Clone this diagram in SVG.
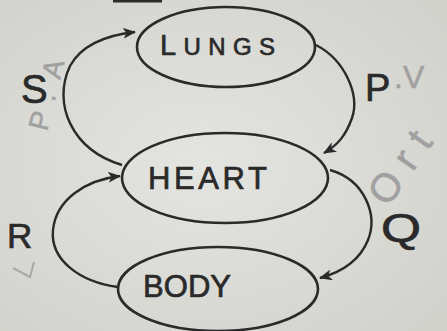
<svg xmlns="http://www.w3.org/2000/svg" width="447" height="331" viewBox="0 0 447 331">
<defs>
<style>
.node{fill:none;stroke:#2a2a2a;stroke-width:2.6}
.edge{fill:none;stroke:#2a2a2a;stroke-width:2.4}
.lbl{font-family:"Liberation Sans",Arial,sans-serif;fill:#2a2a2a;stroke:#2a2a2a;stroke-width:0.7}
.pencil{font-family:"Liberation Sans",Arial,sans-serif;fill:#a0a0a0;stroke:#a0a0a0;stroke-width:0.5}
</style>
<marker id="ah" viewBox="0 0 13 11" refX="12" refY="5.5" markerWidth="13" markerHeight="11" markerUnits="userSpaceOnUse" orient="auto">
<path d="M0,0 L13,5.5 L0,11 L3.5,5.5 Z" fill="#2a2a2a"/>
</marker>
<radialGradient id="bg" cx="0.45" cy="0.5" r="0.7">
<stop offset="0" stop-color="#e4e4e0"/>
<stop offset="1" stop-color="#d2d2cd"/>
</radialGradient>
</defs>
<rect width="447" height="331" fill="url(#bg)"/>
<line x1="113" y1="1" x2="162" y2="1" stroke="#2a2a2a" stroke-width="3"/>
<g id="lungs">
<ellipse class="node" cx="226" cy="47" rx="89" ry="40"/>
<text class="lbl" x="160" y="55" font-size="29" textLength="115" lengthAdjust="spacing">L<tspan font-size="24">UNGS</tspan></text>
</g>
<g id="heart">
<ellipse class="node" cx="225" cy="178" rx="103" ry="45"/>
<text class="lbl" x="148" y="189" font-size="31" textLength="119" lengthAdjust="spacing">HEART</text>
</g>
<g id="body">
<ellipse class="node" cx="218" cy="289" rx="100" ry="42"/>
<text class="lbl" x="143" y="297" font-size="31" textLength="88" lengthAdjust="spacing">BODY</text>
</g>
<g id="connectors">
<path class="edge" d="M122,165 C72,150 52,104 70,66 C82,44 108,35 135,32" marker-end="url(#ah)"/>
<path class="edge" d="M316,45 C345,60 360,95 352,118 C346,135 338,145 324,153" marker-end="url(#ah)"/>
<path class="edge" d="M330,170 C365,180 378,215 368,240 C360,260 342,272 320,278" marker-end="url(#ah)"/>
<path class="edge" d="M118,287 C80,282 50,260 53,230 C56,200 85,180 120,176" marker-end="url(#ah)"/>
</g>
<g id="labels">
<text class="lbl" x="21" y="103" font-size="40">S</text>
<text class="lbl" x="365" y="101" font-size="38">P</text>
<text class="lbl" x="381" y="242" font-size="40" textLength="40" lengthAdjust="spacingAndGlyphs">Q</text>
<text class="lbl" x="7" y="248" font-size="35">R</text>
</g>
<g id="annotations">
<text class="pencil" x="0" y="0" font-size="28" textLength="72" lengthAdjust="spacing" transform="translate(47,132) rotate(-76)">P.A</text>
<text class="pencil" x="394" y="88" font-size="32">.V</text>
<text class="pencil" x="0" y="0" font-size="40" textLength="80" lengthAdjust="spacing" transform="translate(388,208) rotate(-55)">Ort</text>
<path d="M13,268 L30,277 L34,262" fill="none" stroke="#a8a8a8" stroke-width="2"/>
</g>
</svg>
